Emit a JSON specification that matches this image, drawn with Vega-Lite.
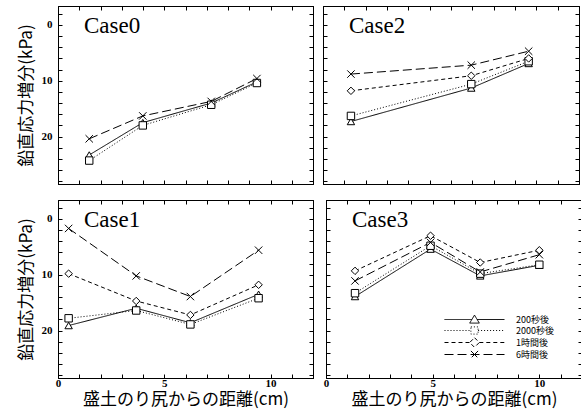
{
  "$schema": "https://vega.github.io/schema/vega-lite/v6.json",
  "padding": {"left": 16, "top": 5, "right": 1, "bottom": 2},
  "background": "white",
  "config": {
    "view": {"stroke": "black", "strokeWidth": 1},
    "axis": {"domainColor": "black", "domainWidth": 1, "tickColor": "black", "tickWidth": 1, "grid": false,
      "labelFont": "Liberation Serif", "labelFontSize": 11, "labelFontWeight": "bold", "labelColor": "black",
      "labelFlush": false, "labelOverlap": false,
      "titleFont": "Noto Sans CJK JP", "titleFontSize": 17, "titleFontWeight": "normal", "titleColor": "black"},
    "legend": {"orient": "none", "legendX": 412, "legendY": 309, "title": null, "padding": 0, "rowPadding": -2,
      "symbolSize": 64, "symbolStrokeColor": "black", "symbolFillColor": "white", "symbolStrokeWidth": 1, "labelOffset": 37,
      "labelFont": "Noto Sans CJK JP", "labelFontSize": 9, "labelColor": "black"}
  },
  "datasets": {
    "d": [
      {"case": "Case0", "series": "200秒後", "x": 1.47, "y": 23.3},
      {"case": "Case0", "series": "200秒後", "x": 3.99, "y": 17.5},
      {"case": "Case0", "series": "200秒後", "x": 7.21, "y": 14.0},
      {"case": "Case0", "series": "200秒後", "x": 9.36, "y": 10.2},
      {"case": "Case0", "series": "2000秒後", "x": 1.47, "y": 24.3},
      {"case": "Case0", "series": "2000秒後", "x": 3.99, "y": 18.0},
      {"case": "Case0", "series": "2000秒後", "x": 7.21, "y": 14.3},
      {"case": "Case0", "series": "2000秒後", "x": 9.36, "y": 10.4},
      {"case": "Case0", "series": "6時間後", "x": 1.47, "y": 20.4},
      {"case": "Case0", "series": "6時間後", "x": 3.99, "y": 16.3},
      {"case": "Case0", "series": "6時間後", "x": 7.21, "y": 13.7},
      {"case": "Case0", "series": "6時間後", "x": 9.36, "y": 9.6},
      {"case": "Case2", "series": "200秒後", "x": 1.31, "y": 17.3},
      {"case": "Case2", "series": "200秒後", "x": 6.95, "y": 11.3},
      {"case": "Case2", "series": "200秒後", "x": 9.64, "y": 6.9},
      {"case": "Case2", "series": "2000秒後", "x": 1.31, "y": 16.3},
      {"case": "Case2", "series": "2000秒後", "x": 6.95, "y": 10.6},
      {"case": "Case2", "series": "2000秒後", "x": 9.64, "y": 6.5},
      {"case": "Case2", "series": "1時間後", "x": 1.31, "y": 11.8},
      {"case": "Case2", "series": "1時間後", "x": 6.95, "y": 9.1},
      {"case": "Case2", "series": "1時間後", "x": 9.64, "y": 6.0},
      {"case": "Case2", "series": "6時間後", "x": 1.31, "y": 8.8},
      {"case": "Case2", "series": "6時間後", "x": 6.95, "y": 7.2},
      {"case": "Case2", "series": "6時間後", "x": 9.64, "y": 4.7},
      {"case": "Case1", "series": "200秒後", "x": 0.5, "y": 19.1},
      {"case": "Case1", "series": "200秒後", "x": 3.68, "y": 16.0},
      {"case": "Case1", "series": "200秒後", "x": 6.23, "y": 18.6},
      {"case": "Case1", "series": "200秒後", "x": 9.44, "y": 13.5},
      {"case": "Case1", "series": "2000秒後", "x": 0.5, "y": 17.8},
      {"case": "Case1", "series": "2000秒後", "x": 3.68, "y": 16.4},
      {"case": "Case1", "series": "2000秒後", "x": 6.23, "y": 18.9},
      {"case": "Case1", "series": "2000秒後", "x": 9.44, "y": 14.2},
      {"case": "Case1", "series": "1時間後", "x": 0.5, "y": 9.8},
      {"case": "Case1", "series": "1時間後", "x": 3.68, "y": 14.7},
      {"case": "Case1", "series": "1時間後", "x": 6.23, "y": 17.2},
      {"case": "Case1", "series": "1時間後", "x": 9.44, "y": 11.8},
      {"case": "Case1", "series": "6時間後", "x": 0.5, "y": 1.7},
      {"case": "Case1", "series": "6時間後", "x": 3.68, "y": 10.2},
      {"case": "Case1", "series": "6時間後", "x": 6.23, "y": 13.9},
      {"case": "Case1", "series": "6時間後", "x": 9.44, "y": 5.6},
      {"case": "Case3", "series": "200秒後", "x": 1.36, "y": 13.9},
      {"case": "Case3", "series": "200秒後", "x": 4.9, "y": 5.4},
      {"case": "Case3", "series": "200秒後", "x": 7.23, "y": 10.2},
      {"case": "Case3", "series": "200秒後", "x": 10.0, "y": 8.3},
      {"case": "Case3", "series": "2000秒後", "x": 1.36, "y": 13.3},
      {"case": "Case3", "series": "2000秒後", "x": 4.9, "y": 4.8},
      {"case": "Case3", "series": "2000秒後", "x": 7.23, "y": 9.8},
      {"case": "Case3", "series": "2000秒後", "x": 10.0, "y": 8.2},
      {"case": "Case3", "series": "1時間後", "x": 1.36, "y": 9.3},
      {"case": "Case3", "series": "1時間後", "x": 4.9, "y": 3.0},
      {"case": "Case3", "series": "1時間後", "x": 7.23, "y": 7.8},
      {"case": "Case3", "series": "1時間後", "x": 10.0, "y": 5.6},
      {"case": "Case3", "series": "6時間後", "x": 1.36, "y": 11.1},
      {"case": "Case3", "series": "6時間後", "x": 4.9, "y": 4.2},
      {"case": "Case3", "series": "6時間後", "x": 7.23, "y": 9.5},
      {"case": "Case3", "series": "6時間後", "x": 10.0, "y": 6.4}
    ]
  },
  "spacing": 12,
  "vconcat": [
    {
      "spacing": 8,
      "hconcat": [
        {
          "width": 255, "height": 178,
          "layer": [
            {"data": {"name": "d"}, "transform": [{"filter": "datum.case === 'Case0'"}],
              "mark": {"type": "line", "strokeWidth": 1, "color": "black"},
              "encoding": {
                "x": {"field": "x", "type": "quantitative", "scale": {"domain": [0, 12], "nice": false, "zero": false},
                  "axis": {"orient": "bottom", "values": [0,1,2,3,4,5,6,7,8,9,10,11,12], "labels": false, "title": null, "tickSize": -4, "minExtent": 0}},
                "y": {"field": "y", "type": "quantitative", "scale": {"domain": [-3.4, 28.5], "reverse": true, "nice": false, "zero": false},
                  "axis": {"orient": "left", "values": [-2,0,2,4,6,8,10,12,14,16,18,20,22,24,26,28],
                    "labelExpr": "datum.value % 10 === 0 ? datum.label : ''", "labelPadding": 10, "tickSize": -4,
                    "title": "鉛直応力増分(kPa)", "titlePadding": 6}},
                "strokeDash": {"field": "series", "type": "nominal",
                  "scale": {"domain": ["6時間後", "1時間後", "2000秒後", "200秒後"], "range": [[9, 4], [4, 3], [1, 2], [1, 0]]},
                  "legend": {"values": ["200秒後", "2000秒後", "1時間後", "6時間後"], "symbolType": "M-7.5,0H7.5",
                    "encode": {"symbols": {"update": {"fill": {"value": "white"}, "stroke": {"value": "black"},
                      "shape": {"signal": "datum.value === '200秒後' ? 'M-7.5,0H-0.66M0.66,0H7.5M0,-1.1L1.2,0.9H-1.2Z' : datum.value === '2000秒後' ? 'M-7.5,0H-0.9M0.9,0H7.5M-0.9,-0.9H0.9V0.9H-0.9Z' : datum.value === '1時間後' ? 'M-7.5,0H-1.2M1.2,0H7.5M0,-1.2L1.2,0L0,1.2L-1.2,0Z' : 'M-7.5,0H7.5M-0.9,-0.9L0.9,0.9M0.9,-0.9L-0.9,0.9'"}}}}}}
              }},
            {"data": {"name": "d"}, "transform": [{"filter": "datum.case === 'Case0'"}],
              "mark": {"type": "point", "filled": true, "fill": "white", "stroke": "black", "strokeWidth": 1, "size": 55, "opacity": 1},
              "encoding": {
                "x": {"field": "x", "type": "quantitative", "axis": {"orient": "top", "values": [0,1,2,3,4,5,6,7,8,9,10,11,12], "labels": false, "title": null, "tickSize": -4, "minExtent": 0}},
                "y": {"field": "y", "type": "quantitative", "axis": {"orient": "right", "values": [-2,0,2,4,6,8,10,12,14,16,18,20,22,24,26,28], "labels": false, "title": null, "tickSize": -4, "minExtent": 0}},
                "shape": {"field": "series", "type": "nominal",
                  "scale": {"domain": ["200秒後", "2000秒後", "1時間後", "6時間後"], "range": ["triangle-up", "square", "diamond", "M-1,-1L1,1M1,-1L-1,1"]}, "legend": null}
              }},
            {"data": {"values": [{"label": "Case0"}]},
              "mark": {"type": "text", "align": "left", "baseline": "alphabetic", "font": "Liberation Serif", "fontSize": 23, "color": "black"},
              "encoding": {
                "x": {"datum": 1.22, "type": "quantitative", "axis": null},
                "y": {"datum": 1.5, "type": "quantitative", "axis": null},
                "text": {"field": "label"}
              }}
          ],
          "resolve": {"axis": {"x": "independent", "y": "independent"}}
        },
        {
          "width": 256, "height": 178,
          "layer": [
            {"data": {"name": "d"}, "transform": [{"filter": "datum.case === 'Case2'"}],
              "mark": {"type": "line", "strokeWidth": 1, "color": "black"},
              "encoding": {
                "x": {"field": "x", "type": "quantitative", "scale": {"domain": [0, 12], "nice": false, "zero": false},
                  "axis": {"orient": "bottom", "values": [0,1,2,3,4,5,6,7,8,9,10,11,12], "labels": false, "title": null, "tickSize": -4, "minExtent": 0}},
                "y": {"field": "y", "type": "quantitative", "scale": {"domain": [-3.4, 28.5], "reverse": true, "nice": false, "zero": false},
                  "axis": {"orient": "left", "values": [-2,0,2,4,6,8,10,12,14,16,18,20,22,24,26,28], "labels": false, "title": null, "tickSize": -4, "minExtent": 0}},
                "strokeDash": {"field": "series", "type": "nominal",
                  "scale": {"domain": ["6時間後", "1時間後", "2000秒後", "200秒後"], "range": [[9, 4], [4, 3], [1, 2], [1, 0]]},
                  "legend": {"values": ["200秒後", "2000秒後", "1時間後", "6時間後"], "symbolType": "M-7.5,0H7.5",
                    "encode": {"symbols": {"update": {"fill": {"value": "white"}, "stroke": {"value": "black"},
                      "shape": {"signal": "datum.value === '200秒後' ? 'M-7.5,0H-0.66M0.66,0H7.5M0,-1.1L1.2,0.9H-1.2Z' : datum.value === '2000秒後' ? 'M-7.5,0H-0.9M0.9,0H7.5M-0.9,-0.9H0.9V0.9H-0.9Z' : datum.value === '1時間後' ? 'M-7.5,0H-1.2M1.2,0H7.5M0,-1.2L1.2,0L0,1.2L-1.2,0Z' : 'M-7.5,0H7.5M-0.9,-0.9L0.9,0.9M0.9,-0.9L-0.9,0.9'"}}}}}}
              }},
            {"data": {"name": "d"}, "transform": [{"filter": "datum.case === 'Case2'"}],
              "mark": {"type": "point", "filled": true, "fill": "white", "stroke": "black", "strokeWidth": 1, "size": 55, "opacity": 1},
              "encoding": {
                "x": {"field": "x", "type": "quantitative", "axis": {"orient": "top", "values": [0,1,2,3,4,5,6,7,8,9,10,11,12], "labels": false, "title": null, "tickSize": -4, "minExtent": 0}},
                "y": {"field": "y", "type": "quantitative", "axis": {"orient": "right", "values": [-2,0,2,4,6,8,10,12,14,16,18,20,22,24,26,28], "labels": false, "title": null, "tickSize": -4, "minExtent": 0}},
                "shape": {"field": "series", "type": "nominal",
                  "scale": {"domain": ["200秒後", "2000秒後", "1時間後", "6時間後"], "range": ["triangle-up", "square", "diamond", "M-1,-1L1,1M1,-1L-1,1"]}, "legend": null}
              }},
            {"data": {"values": [{"label": "Case2"}]},
              "mark": {"type": "text", "align": "left", "baseline": "alphabetic", "font": "Liberation Serif", "fontSize": 23, "color": "black"},
              "encoding": {
                "x": {"datum": 1.22, "type": "quantitative", "axis": null},
                "y": {"datum": 1.5, "type": "quantitative", "axis": null},
                "text": {"field": "label"}
              }}
          ],
          "resolve": {"axis": {"x": "independent", "y": "independent"}}
        }
      ]
    },
    {
      "spacing": 8,
      "hconcat": [
        {
          "width": 255, "height": 178,
          "layer": [
            {"data": {"name": "d"}, "transform": [{"filter": "datum.case === 'Case1'"}],
              "mark": {"type": "line", "strokeWidth": 1, "color": "black"},
              "encoding": {
                "x": {"field": "x", "type": "quantitative", "scale": {"domain": [0, 12], "nice": false, "zero": false},
                  "axis": {"orient": "bottom", "values": [0,1,2,3,4,5,6,7,8,9,10,11,12],
                    "labelExpr": "datum.value % 5 === 0 ? datum.label : ''", "labelPadding": 3, "tickSize": -4,
                    "title": "盛土のり尻からの距離(cm)", "titlePadding": 3}},
                "y": {"field": "y", "type": "quantitative", "scale": {"domain": [-3.4, 28.5], "reverse": true, "nice": false, "zero": false},
                  "axis": {"orient": "left", "values": [-2,0,2,4,6,8,10,12,14,16,18,20,22,24,26,28],
                    "labelExpr": "datum.value % 10 === 0 ? datum.label : ''", "labelPadding": 10, "tickSize": -4,
                    "title": "鉛直応力増分(kPa)", "titlePadding": 6}},
                "strokeDash": {"field": "series", "type": "nominal",
                  "scale": {"domain": ["6時間後", "1時間後", "2000秒後", "200秒後"], "range": [[9, 4], [4, 3], [1, 2], [1, 0]]},
                  "legend": {"values": ["200秒後", "2000秒後", "1時間後", "6時間後"], "symbolType": "M-7.5,0H7.5",
                    "encode": {"symbols": {"update": {"fill": {"value": "white"}, "stroke": {"value": "black"},
                      "shape": {"signal": "datum.value === '200秒後' ? 'M-7.5,0H-0.66M0.66,0H7.5M0,-1.1L1.2,0.9H-1.2Z' : datum.value === '2000秒後' ? 'M-7.5,0H-0.9M0.9,0H7.5M-0.9,-0.9H0.9V0.9H-0.9Z' : datum.value === '1時間後' ? 'M-7.5,0H-1.2M1.2,0H7.5M0,-1.2L1.2,0L0,1.2L-1.2,0Z' : 'M-7.5,0H7.5M-0.9,-0.9L0.9,0.9M0.9,-0.9L-0.9,0.9'"}}}}}}
              }},
            {"data": {"name": "d"}, "transform": [{"filter": "datum.case === 'Case1'"}],
              "mark": {"type": "point", "filled": true, "fill": "white", "stroke": "black", "strokeWidth": 1, "size": 55, "opacity": 1},
              "encoding": {
                "x": {"field": "x", "type": "quantitative", "axis": {"orient": "top", "values": [0,1,2,3,4,5,6,7,8,9,10,11,12], "labels": false, "title": null, "tickSize": -4, "minExtent": 0}},
                "y": {"field": "y", "type": "quantitative", "axis": {"orient": "right", "values": [-2,0,2,4,6,8,10,12,14,16,18,20,22,24,26,28], "labels": false, "title": null, "tickSize": -4, "minExtent": 0}},
                "shape": {"field": "series", "type": "nominal",
                  "scale": {"domain": ["200秒後", "2000秒後", "1時間後", "6時間後"], "range": ["triangle-up", "square", "diamond", "M-1,-1L1,1M1,-1L-1,1"]}, "legend": null}
              }},
            {"data": {"values": [{"label": "Case1"}]},
              "mark": {"type": "text", "align": "left", "baseline": "alphabetic", "font": "Liberation Serif", "fontSize": 23, "color": "black"},
              "encoding": {
                "x": {"datum": 1.22, "type": "quantitative", "axis": null},
                "y": {"datum": 1.5, "type": "quantitative", "axis": null},
                "text": {"field": "label"}
              }}
          ],
          "resolve": {"axis": {"x": "independent", "y": "independent"}}
        },
        {
          "width": 256, "height": 178,
          "layer": [
            {"data": {"name": "d"}, "transform": [{"filter": "datum.case === 'Case3'"}],
              "mark": {"type": "line", "strokeWidth": 1, "color": "black"},
              "encoding": {
                "x": {"field": "x", "type": "quantitative", "scale": {"domain": [0, 12], "nice": false, "zero": false},
                  "axis": {"orient": "bottom", "values": [0,1,2,3,4,5,6,7,8,9,10,11,12],
                    "labelExpr": "datum.value % 5 === 0 ? datum.label : ''", "labelPadding": 3, "tickSize": -4,
                    "title": "盛土のり尻からの距離(cm)", "titlePadding": 3}},
                "y": {"field": "y", "type": "quantitative", "scale": {"domain": [-3.4, 28.5], "reverse": true, "nice": false, "zero": false},
                  "axis": {"orient": "left", "values": [-2,0,2,4,6,8,10,12,14,16,18,20,22,24,26,28], "labels": false, "title": null, "tickSize": -4, "minExtent": 0}},
                "strokeDash": {"field": "series", "type": "nominal",
                  "scale": {"domain": ["6時間後", "1時間後", "2000秒後", "200秒後"], "range": [[9, 4], [4, 3], [1, 2], [1, 0]]},
                  "legend": {"values": ["200秒後", "2000秒後", "1時間後", "6時間後"], "symbolType": "M-7.5,0H7.5",
                    "encode": {"symbols": {"update": {"fill": {"value": "white"}, "stroke": {"value": "black"},
                      "shape": {"signal": "datum.value === '200秒後' ? 'M-7.5,0H-0.66M0.66,0H7.5M0,-1.1L1.2,0.9H-1.2Z' : datum.value === '2000秒後' ? 'M-7.5,0H-0.9M0.9,0H7.5M-0.9,-0.9H0.9V0.9H-0.9Z' : datum.value === '1時間後' ? 'M-7.5,0H-1.2M1.2,0H7.5M0,-1.2L1.2,0L0,1.2L-1.2,0Z' : 'M-7.5,0H7.5M-0.9,-0.9L0.9,0.9M0.9,-0.9L-0.9,0.9'"}}}}}}
              }},
            {"data": {"name": "d"}, "transform": [{"filter": "datum.case === 'Case3'"}],
              "mark": {"type": "point", "filled": true, "fill": "white", "stroke": "black", "strokeWidth": 1, "size": 55, "opacity": 1},
              "encoding": {
                "x": {"field": "x", "type": "quantitative", "axis": {"orient": "top", "values": [0,1,2,3,4,5,6,7,8,9,10,11,12], "labels": false, "title": null, "tickSize": -4, "minExtent": 0}},
                "y": {"field": "y", "type": "quantitative", "axis": {"orient": "right", "values": [-2,0,2,4,6,8,10,12,14,16,18,20,22,24,26,28], "labels": false, "title": null, "tickSize": -4, "minExtent": 0}},
                "shape": {"field": "series", "type": "nominal",
                  "scale": {"domain": ["200秒後", "2000秒後", "1時間後", "6時間後"], "range": ["triangle-up", "square", "diamond", "M-1,-1L1,1M1,-1L-1,1"]}, "legend": null}
              }},
            {"data": {"values": [{"label": "Case3"}]},
              "mark": {"type": "text", "align": "left", "baseline": "alphabetic", "font": "Liberation Serif", "fontSize": 23, "color": "black"},
              "encoding": {
                "x": {"datum": 1.22, "type": "quantitative", "axis": null},
                "y": {"datum": 1.5, "type": "quantitative", "axis": null},
                "text": {"field": "label"}
              }}
          ],
          "resolve": {"axis": {"x": "independent", "y": "independent"}}
        }
      ]
    }
  ]
}
